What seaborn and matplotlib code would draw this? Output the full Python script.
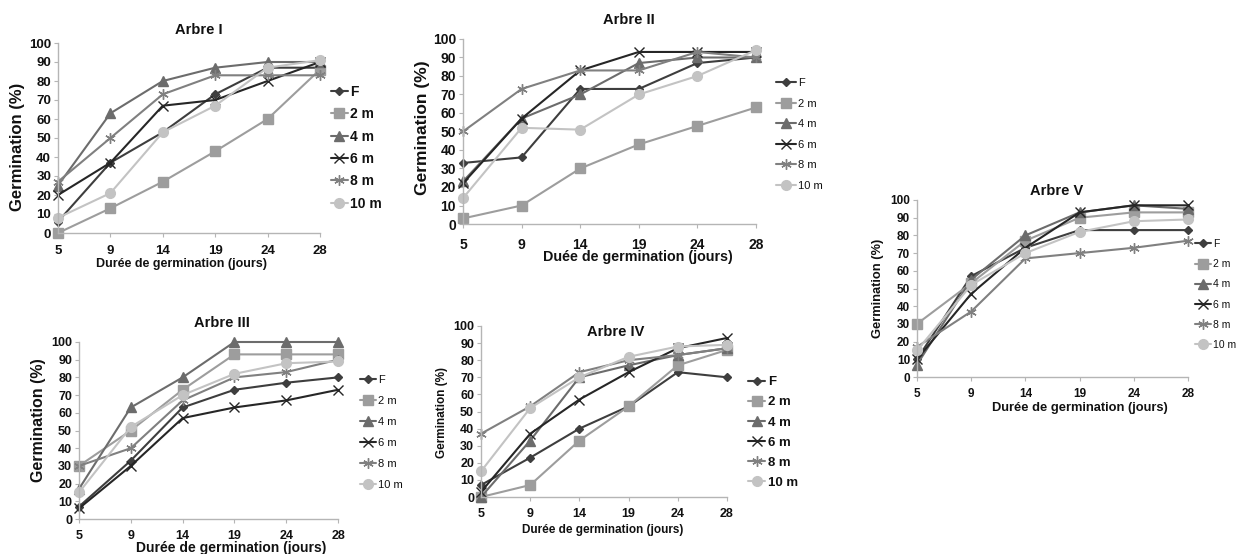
import matplotlib
matplotlib.use("Agg")
import matplotlib.pyplot as plt
import seaborn as sns
import pandas as pd

days = ["5", "9", "14", "19", "24", "28"]
series_names = ["F", "2 m", "4 m", "6 m", "8 m", "10 m"]

arbre1 = {
    "F":    [6, 37, 53, 73, 87, 87],
    "2 m":  [0, 13, 27, 43, 60, 86],
    "4 m":  [25, 63, 80, 87, 90, 90],
    "6 m":  [20, 37, 67, 70, 80, 90],
    "8 m":  [27, 50, 73, 83, 83, 83],
    "10 m": [8, 21, 53, 67, 87, 91],
}
arbre2 = {
    "F":    [33, 36, 73, 73, 87, 90],
    "2 m":  [3, 10, 30, 43, 53, 63],
    "4 m":  [23, 57, 70, 87, 90, 90],
    "6 m":  [22, 57, 83, 93, 93, 93],
    "8 m":  [50, 73, 83, 83, 93, 90],
    "10 m": [14, 52, 51, 70, 80, 94],
}
arbre3 = {
    "F":    [7, 33, 63, 73, 77, 80],
    "2 m":  [30, 50, 73, 93, 93, 93],
    "4 m":  [17, 63, 80, 100, 100, 100],
    "6 m":  [6, 30, 57, 63, 67, 73],
    "8 m":  [30, 40, 67, 80, 83, 90],
    "10 m": [15, 52, 70, 82, 88, 89],
}
arbre4 = {
    "F":    [7, 23, 40, 53, 73, 70],
    "2 m":  [0, 7, 33, 53, 77, 86],
    "4 m":  [0, 33, 70, 77, 83, 87],
    "6 m":  [3, 37, 57, 73, 87, 93],
    "8 m":  [37, 53, 73, 80, 83, 87],
    "10 m": [15, 52, 70, 82, 88, 89],
}
arbre5 = {
    "F":    [10, 57, 73, 83, 83, 83],
    "2 m":  [30, 53, 77, 90, 93, 93],
    "4 m":  [7, 55, 80, 93, 97, 95],
    "6 m":  [10, 47, 73, 93, 97, 97],
    "8 m":  [17, 37, 67, 70, 73, 77],
    "10 m": [15, 52, 70, 82, 88, 89],
}
y_ticks = list(range(0, 101, 10))

palette = {"F": "#3e3e3e", "2 m": "#9d9d9d", "4 m": "#6c6c6c",
           "6 m": "#262626", "8 m": "#808080", "10 m": "#c3c3c3"}
# seaborn needs all-filled markers; the line-art ones are applied afterwards
sns_markers = {"F": "D", "2 m": "s", "4 m": "^", "6 m": "X", "8 m": "P", "10 m": "o"}
final_markers = {"F": "D", "2 m": "s", "4 m": "^", "6 m": "x", "8 m": (6, 2, 0), "10 m": "o"}
msizes = {"F": 4.5, "2 m": 6.5, "4 m": 6.5, "6 m": 6.5, "8 m": 7.5, "10 m": 7}

sns.set_theme(style="white")
plt.rcParams["font.family"] = ["Liberation Sans", "DejaVu Sans"]

W, H = 1243, 554
fig = plt.figure(figsize=(W / 100, H / 100), dpi=100)


def fx(x):
    return x / W


def fy(y):
    return 1 - y / H


def make_panel(data, box, title, title_xy, xlabel, xlabel_xy, xlabel_fs,
               ylabel_xy, ylabel_fs, legend_xy, legend_bold, legend_fs,
               spacing, handlelen, tick_fs, tick_pad):
    l, r, t, b = box
    ax = fig.add_axes([fx(l), fy(b), (r - l) / W, (b - t) / H])
    rows = []
    for name in series_names:
        for i, v in enumerate(data[name]):
            rows.append({"pos": i, "val": v, "dist": name})
    df = pd.DataFrame(rows)
    sns.lineplot(data=df, x="pos", y="val", hue="dist", style="dist",
                 hue_order=series_names, style_order=series_names,
                 palette=palette, markers=sns_markers, dashes=False,
                 linewidth=1.5, legend=False, ax=ax)
    lines = ax.get_lines()[:len(series_names)]
    for ln, name in zip(lines, series_names):
        c = palette[name]
        ln.set_marker(final_markers[name])
        ln.set_markeredgecolor(c)
        ln.set_markerfacecolor(c)
        ln.set_markersize(msizes[name])
        ln.set_markeredgewidth(1.0)
        ln.set_clip_on(False)
    ax.set_xlim(0, len(days) - 1)
    ax.set_ylim(0, 100)
    ax.set_xticks(range(len(days)))
    ax.set_xticklabels(days, fontsize=tick_fs, fontweight="bold")
    ax.set_yticks(y_ticks)
    ax.set_yticklabels([str(v) for v in y_ticks], fontsize=tick_fs, fontweight="bold")
    ax.set_xlabel("")
    ax.set_ylabel("")
    for s in ["top", "right"]:
        ax.spines[s].set_visible(False)
    for s in ["left", "bottom"]:
        ax.spines[s].set_color("#b5b5b5")
        ax.spines[s].set_linewidth(1.0)
    ax.tick_params(axis="both", length=3, width=0.8, color="#b5b5b5",
                   direction="out", labelcolor="#111111")
    ax.tick_params(axis="y", left=True, pad=2)
    ax.tick_params(axis="x", bottom=True, pad=tick_pad)
    ax.set_facecolor("white")
    fig.text(fx(title_xy[0]), fy(title_xy[1]), title, ha="center", va="center",
             fontsize=10.5, fontweight="bold", color="#111111")
    fig.text(fx(xlabel_xy[0]), fy(xlabel_xy[1]), xlabel, ha="center", va="center",
             fontsize=xlabel_fs, fontweight="bold", color="#111111")
    fig.text(fx(ylabel_xy[0]), fy(ylabel_xy[1]), "Germination (%)", ha="center",
             va="center", rotation=90, fontsize=ylabel_fs, fontweight="bold",
             color="#111111")
    leg = ax.legend(lines, series_names, loc="upper left",
                    bbox_to_anchor=(fx(legend_xy[0]), fy(legend_xy[1])),
                    bbox_transform=fig.transFigure, frameon=False,
                    handlelength=handlelen, handletextpad=0.2, borderaxespad=0,
                    borderpad=0, labelspacing=spacing,
                    prop={"weight": "bold" if legend_bold else "normal",
                          "size": legend_fs})
    for txt in leg.get_texts():
        txt.set_color("#111111")
    return ax


make_panel(arbre1, (58, 320, 43, 233), "Arbre I", (199, 30),
           "Durée de germination (jours)", (182, 264), 9,
           (18, 147), 12, (331, 85), True, 10, 0.6, 1.2, 9.5, 5.5)
make_panel(arbre2, (463, 756, 39, 224), "Arbre II", (629, 20),
           "Duée de germination (jours)", (638, 257), 10.3,
           (423, 128), 12.5, (776, 78), False, 8, 0.95, 1.8, 10, 7)
make_panel(arbre5, (917, 1188, 200, 377), "Arbre V", (1057, 191),
           "Durée de germination (jours)", (1080, 408), 9.3,
           (878, 288), 9.3, (1195, 239), False, 7.5, 0.98, 1.5, 8.5, 5)
make_panel(arbre3, (79, 338, 342, 519), "Arbre III", (222, 323),
           "Durée de germination (jours)", (231, 548), 10,
           (39, 420), 11.5, (360, 375), False, 8, 0.99, 1.4, 9, 5)
make_panel(arbre4, (481, 727, 326, 497), "Arbre IV", (616, 332),
           "Durée de germination (jours)", (603, 530), 8.5,
           (442, 412), 8.5, (748, 376), True, 9.5, 0.6, 1.3, 9, 5)

fig.savefig("out.png", dpi=100, facecolor="white")
